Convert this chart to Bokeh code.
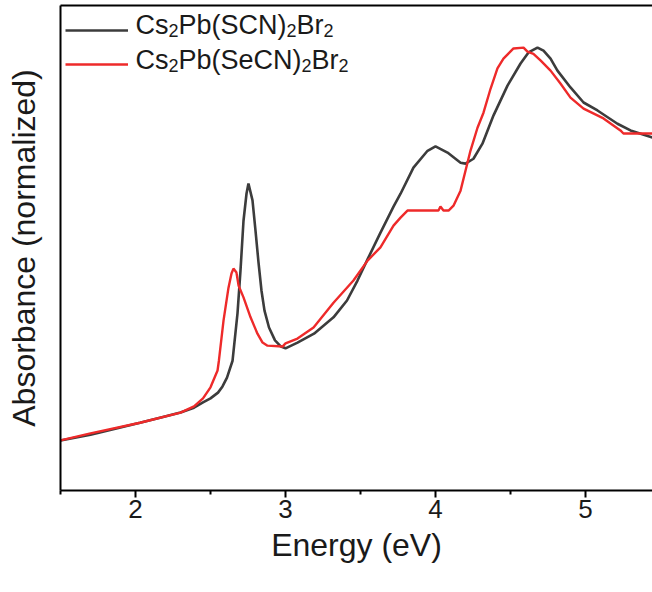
from bokeh.plotting import figure
from bokeh.models import Range1d, FixedTicker, LinearAxis, Legend, LegendItem, ColumnDataSource
from bokeh.core.properties import value
from bokeh.embed import file_html
from bokeh.resources import INLINE

# ---- data ----
energy_scn = [1.50, 1.70, 1.90, 2.03, 2.17, 2.30, 2.39, 2.45, 2.50, 2.55, 2.58, 2.61,
              2.647, 2.68, 2.70, 2.72, 2.74, 2.753, 2.78, 2.80, 2.82, 2.84, 2.86, 2.89,
              2.93, 2.97, 3.00, 3.08, 3.19, 3.32, 3.41, 3.48, 3.55, 3.63, 3.72, 3.767,
              3.853, 3.947, 4.00, 4.08, 4.167, 4.20, 4.253, 4.313, 4.387, 4.48, 4.567,
              4.62, 4.68, 4.72, 4.767, 4.813, 4.90, 4.987, 5.08, 5.213, 5.30, 5.447]
abs_scn = [0.113, 0.126, 0.142, 0.153, 0.165, 0.176, 0.187, 0.199, 0.208, 0.221, 0.235, 0.255,
           0.293, 0.400, 0.497, 0.609, 0.670, 0.693, 0.655, 0.587, 0.515, 0.451, 0.406, 0.368,
           0.339, 0.325, 0.321, 0.334, 0.354, 0.391, 0.429, 0.474, 0.524, 0.580, 0.641, 0.670,
           0.729, 0.767, 0.777, 0.763, 0.740, 0.738, 0.749, 0.783, 0.847, 0.914, 0.964,
           0.989, 1.000, 0.993, 0.975, 0.948, 0.910, 0.876, 0.858, 0.828, 0.813, 0.797]

energy_secn = [1.50, 1.70, 2.03, 2.30, 2.39, 2.45, 2.50, 2.547, 2.556, 2.587, 2.62, 2.64,
               2.653, 2.673, 2.687, 2.72, 2.767, 2.813, 2.847, 2.88, 2.98, 3.00, 3.08,
               3.187, 3.32, 3.453, 3.547, 3.633, 3.72, 3.767, 3.813, 4.02, 4.033, 4.053,
               4.087, 4.12, 4.167, 4.20, 4.233, 4.28, 4.32, 4.367, 4.413, 4.453, 4.52,
               4.587, 4.613, 4.653, 4.70, 4.767, 4.833, 4.90, 4.987, 5.12, 5.233, 5.253, 5.447]
abs_secn = [0.113, 0.129, 0.153, 0.176, 0.190, 0.208, 0.233, 0.271, 0.293, 0.384, 0.458, 0.490,
            0.501, 0.492, 0.463, 0.436, 0.391, 0.354, 0.334, 0.327, 0.325, 0.332, 0.343,
            0.368, 0.424, 0.474, 0.519, 0.549, 0.598, 0.616, 0.632, 0.632, 0.641, 0.632,
            0.632, 0.643, 0.677, 0.722, 0.767, 0.819, 0.853, 0.907, 0.953, 0.975, 0.998,
            1.000, 0.991, 0.986, 0.971, 0.948, 0.919, 0.887, 0.862, 0.840, 0.813, 0.806, 0.806]

x_ticks = [2, 3, 4, 5]
x_minor = [1.5, 2.5, 3.5, 4.5]

# legend texts: pieces of each formula (normal text / subscript)
legend_scn_parts = ["Cs", "2", "Pb(SCN)", "2", "Br", "2"]
legend_secn_parts = ["Cs", "2", "Pb(SeCN)", "2", "Br", "2"]

FONT = "Liberation Sans"
X0, X1 = 1.5, 5.4467
Y0, Y1 = 0.0, 1.095

p = figure(width=652, height=592, output_backend="svg", toolbar_location=None,
           x_range=Range1d(X0, X1), y_range=Range1d(Y0, Y1),
           min_border_left=60, min_border_right=0, min_border_top=5, min_border_bottom=102)
p.outline_line_color = None
p.xgrid.visible = False
p.ygrid.visible = False
p.background_fill_color = "white"
p.border_fill_color = "white"

r1 = p.line(energy_scn, abs_scn, line_color="#3c3c3c", line_width=2.6)
r2 = p.line(energy_secn, abs_secn, line_color="#ee2a2a", line_width=2.4)

# x axis
xa = p.xaxis[0]
xa.ticker = FixedTicker(ticks=x_ticks, minor_ticks=x_minor)
xa.axis_line_width = 2
xa.major_tick_line_width = 2
xa.minor_tick_line_width = 2
xa.major_tick_in = 0
xa.major_tick_out = 7
xa.minor_tick_in = 0
xa.minor_tick_out = 4
xa.major_label_text_font = FONT
xa.major_label_text_font_size = "26px"
xa.major_label_text_color = "#1a1a1a"
xa.major_label_standoff = 2
xa.axis_label = "Energy (eV)"
xa.axis_label_text_font = FONT
xa.axis_label_text_font_size = "32px"
xa.axis_label_text_font_style = "normal"
xa.axis_label_text_color = "#1a1a1a"
xa.axis_label_standoff = 6

# y axis
ya = p.yaxis[0]
ya.ticker = FixedTicker(ticks=[])
ya.axis_line_width = 2
ya.major_tick_out = 0
ya.minor_tick_out = 0
ya.major_label_text_font_size = "0px"
ya.axis_label = "Absorbance (normalized)"
ya.axis_label_text_font = FONT
ya.axis_label_text_font_size = "32px"
ya.axis_label_text_font_style = "normal"
ya.axis_label_text_color = "#1a1a1a"
ya.axis_label_standoff = 19

# top border
top = LinearAxis(ticker=FixedTicker(ticks=[]), axis_line_width=2, major_tick_out=0,
                 minor_tick_out=0, major_label_text_font_size="0px")
p.add_layout(top, "above")

# legend sample lines (one legend per item so each can be placed exactly)
for rend, loc in [(r1, (5, 450)), (r2, (5, 416))]:
    lg = Legend(items=[LegendItem(label=" ", renderers=[rend])],
                location=loc, margin=0, padding=0, spacing=0,
                glyph_width=63, glyph_height=20, label_height=20, label_standoff=0,
                label_text_font_size="1px",
                border_line_color=None, background_fill_alpha=0)
    p.add_layout(lg)

# legend text, built from pieces so that subscripts are real lowered text
MAIN, SUB = 27, 18
W = {"C": .722, "s": .5, "P": .667, "b": .556, "(": .333, "S": .667, "N": .722,
     ")": .333, "B": .667, "r": .333, "e": .556, "2": .556}
xs, ys, txt, xo, yo, fs = [], [], [], [], [], []
for row, parts in enumerate([legend_scn_parts, legend_secn_parts]):
    off = 75.0
    base = 19 + 35 * row
    for i, part in enumerate(parts):
        sub = i % 2 == 1
        size = SUB if sub else MAIN
        xs.append(X0); ys.append(Y1)
        txt.append(part); xo.append(off); yo.append(base + (6 if sub else 0))
        fs.append(f"{size}px")
        off += sum(W[c] for c in part) * size
src = ColumnDataSource(dict(x=xs, y=ys, text=txt, xo=xo, yo=yo, fs=fs))
p.text(x="x", y="y", text="text", x_offset="xo", y_offset="yo", text_font_size="fs",
       text_font=value(FONT), text_color="#1a1a1a", text_baseline="alphabetic",
       text_align="left", source=src)

open("out.html", "w").write(file_html(p, INLINE))
